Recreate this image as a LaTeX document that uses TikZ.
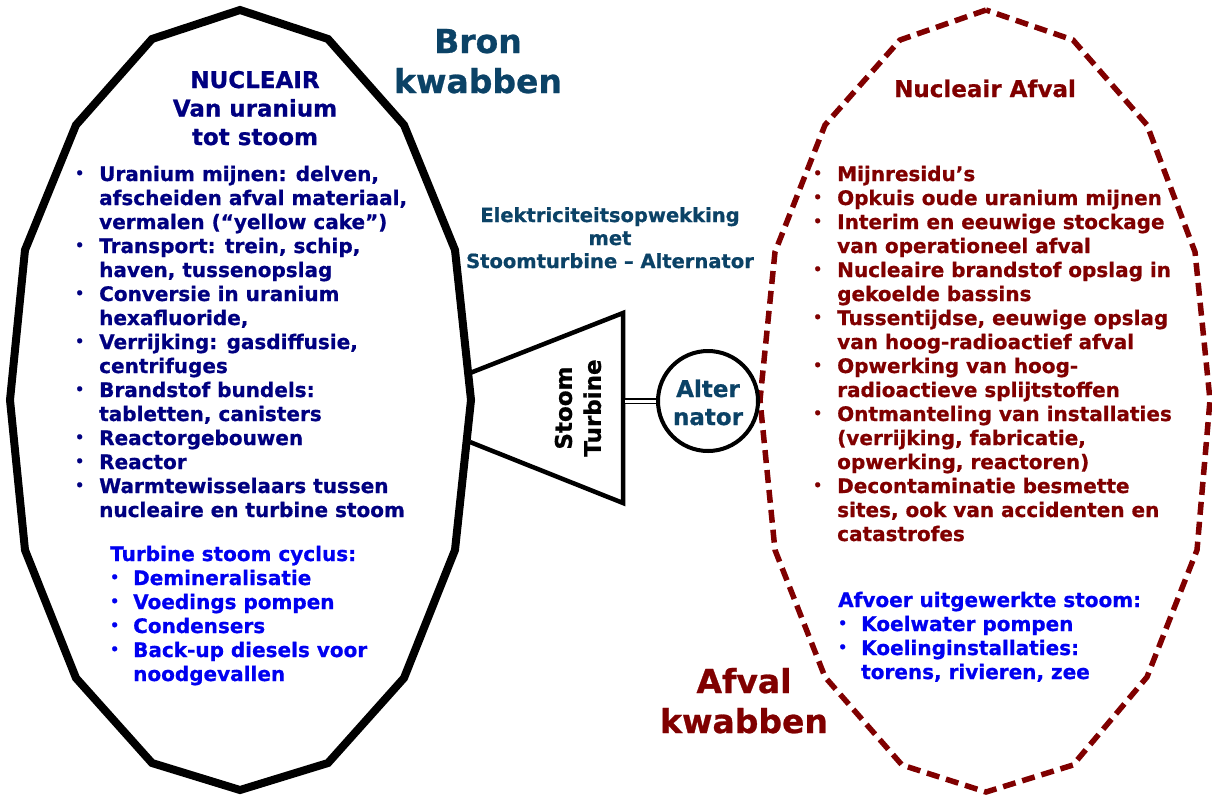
\documentclass[tikz,border=0pt]{standalone}
\usepackage{fontspec}
\setmainfont{DejaVu Sans}[BoldFeatures={FakeBold=0.8}]
\definecolor{navy}{HTML}{000080}
\definecolor{vblue}{HTML}{0000F0}
\definecolor{dred}{HTML}{800000}
\definecolor{teal}{HTML}{0B4266}
\newcommand\itm{\makebox[24pt][l]{\raisebox{3pt}{\fontsize{14}{14}\selectfont •}}}
\newcommand\cnt{\hspace*{24pt}}
\newcommand\itmb{\makebox[23pt][l]{\raisebox{3pt}{\fontsize{14}{14}\selectfont •}}}
\newcommand\cntb{\hspace*{23pt}}
\begin{document}
\begin{tikzpicture}[x=1pt,y=-1pt,
  lobe/.style={line width=8pt, line join=miter},
  wastelobe/.style={line width=5.5pt, draw=dred, dash pattern=on 13pt off 7pt},
  txt/.style={inner sep=0pt, anchor=base west, font=\bfseries\fontsize{20}{24}\selectfont},
  ctxt/.style={inner sep=0pt, anchor=base, font=\bfseries},
  machine/.style={line width=4.5pt, line join=miter}]
\useasboundingbox (0,0) rectangle (1212,796);

% left lobe
\draw[lobe] (240,10) -- (152,39) -- (76,125) -- (25,250) -- (10,400) -- (25,550) -- (76,678) -- (152,763) -- (240,790) -- (328,763) -- (404,678) -- (455,550) -- (471,400) -- (455,250) -- (404,125) -- (328,39) -- cycle;
% right lobe
\draw[wastelobe] (986,10) -- (900,40) -- (825,125) -- (775,252) -- (760,400) -- (775,550) -- (825,677) -- (902,765) -- (986,792) -- (1073,765) -- (1147,677) -- (1197,550) -- (1210,400) -- (1195,252) -- (1147,125) -- (1073,40) -- cycle;

% turbine
\coordinate (tl) at (470,373);
\coordinate (tt) at (623,313);
\coordinate (tb) at (623,503);
\coordinate (bl) at (470,442);
\coordinate (tr) at (625,401);
\draw[machine] (tl) -- (tt) -- (tb) -- (bl);
\node[draw, circle, line width=4pt, minimum size=100pt, inner sep=0pt] (alt) at (708,401) {};
\draw[double distance=3pt, line width=1.3pt] (tr) -- (alt.west);

\node[ctxt, rotate=90, anchor=center, font=\bfseries\fontsize{23}{29}\selectfont] (turb) at (578,408) {\parbox{120pt}{\centering Stoom\\Turbine}};
\node[ctxt, text=teal, font=\bfseries\fontsize{23}{28}\selectfont] (altt) at (708,397) {\parbox[t]{100pt}{\centering Alter\\nator}};

% headings
\node[ctxt, text=teal, font=\bfseries\fontsize{33}{40}\selectfont] (bron) at (478,53) {\parbox[t]{250pt}{\centering Bron\\kwabben}};
\node[ctxt, text=dred, font=\bfseries\fontsize{33}{40}\selectfont] (afval) at (744,693) {\parbox[t]{250pt}{\centering Afval\\kwabben}};
\node[ctxt, text=teal, font=\bfseries\fontsize{19.5}{23}\selectfont] (elek) at (610,222) {\parbox[t]{340pt}{\centering Elektriciteitsopwekking\\met\\Stoomturbine – Alternator}};

\node[ctxt, text=navy, font=\bfseries\fontsize{23}{28.5}\selectfont] (nuc) at (255,88) {\parbox[t]{250pt}{\centering NUCLEAIR\\Van uranium\\tot stoom}};
\node[ctxt, text=dred, font=\bfseries\fontsize{23}{28}\selectfont] (naf) at (985,97) {Nucleair Afval};

% left list
\node[txt, text=navy] (llist) at (75,181) {\parbox[t]{400pt}{%
\itm Uranium mijnen: delven,\\
\cnt afscheiden afval materiaal,\\
\cnt vermalen (“yellow cake”)\\
\itm Transport: trein, schip,\\
\cnt haven, tussenopslag\\
\itm Conversie in uranium\\
\cnt hexafluoride,\\
\itm Verrijking: gasdiffusie,\\
\cnt centrifuges\\
\itm Brandstof bundels:\\
\cnt tabletten, canisters\\
\itm Reactorgebouwen\\
\itm Reactor\\
\itm Warmtewisselaars tussen\\
\cnt nucleaire en turbine stoom}};

\node[txt, text=vblue] (lblue) at (110,561) {\parbox[t]{400pt}{%
Turbine stoom cyclus:\\
\itmb Demineralisatie\\
\itmb Voedings pompen\\
\itmb Condensers\\
\itmb Back-up diesels voor\\
\cntb noodgevallen}};

% right list
\node[txt, text=dred] (rlist) at (813,181) {\parbox[t]{400pt}{%
\itm Mijnresidu’s\\
\itm Opkuis oude uranium mijnen\\
\itm Interim en eeuwige stockage\\
\cnt van operationeel afval\\
\itm Nucleaire brandstof opslag in\\
\cnt gekoelde bassins\\
\itm Tussentijdse, eeuwige opslag\\
\cnt van hoog-radioactief afval\\
\itm Opwerking van hoog-\\
\cnt radioactieve splijtstoffen\\
\itm Ontmanteling van installaties\\
\cnt (verrijking, fabricatie,\\
\cnt opwerking, reactoren)\\
\itm Decontaminatie besmette\\
\cnt sites, ook van accidenten en\\
\cnt catastrofes}};

\node[txt, text=vblue] (rblue) at (838,607) {\parbox[t]{400pt}{%
Afvoer uitgewerkte stoom:\\
\itmb Koelwater pompen\\
\itmb Koelinginstallaties:\\
\cntb torens, rivieren, zee}};
\end{tikzpicture}
\end{document}
